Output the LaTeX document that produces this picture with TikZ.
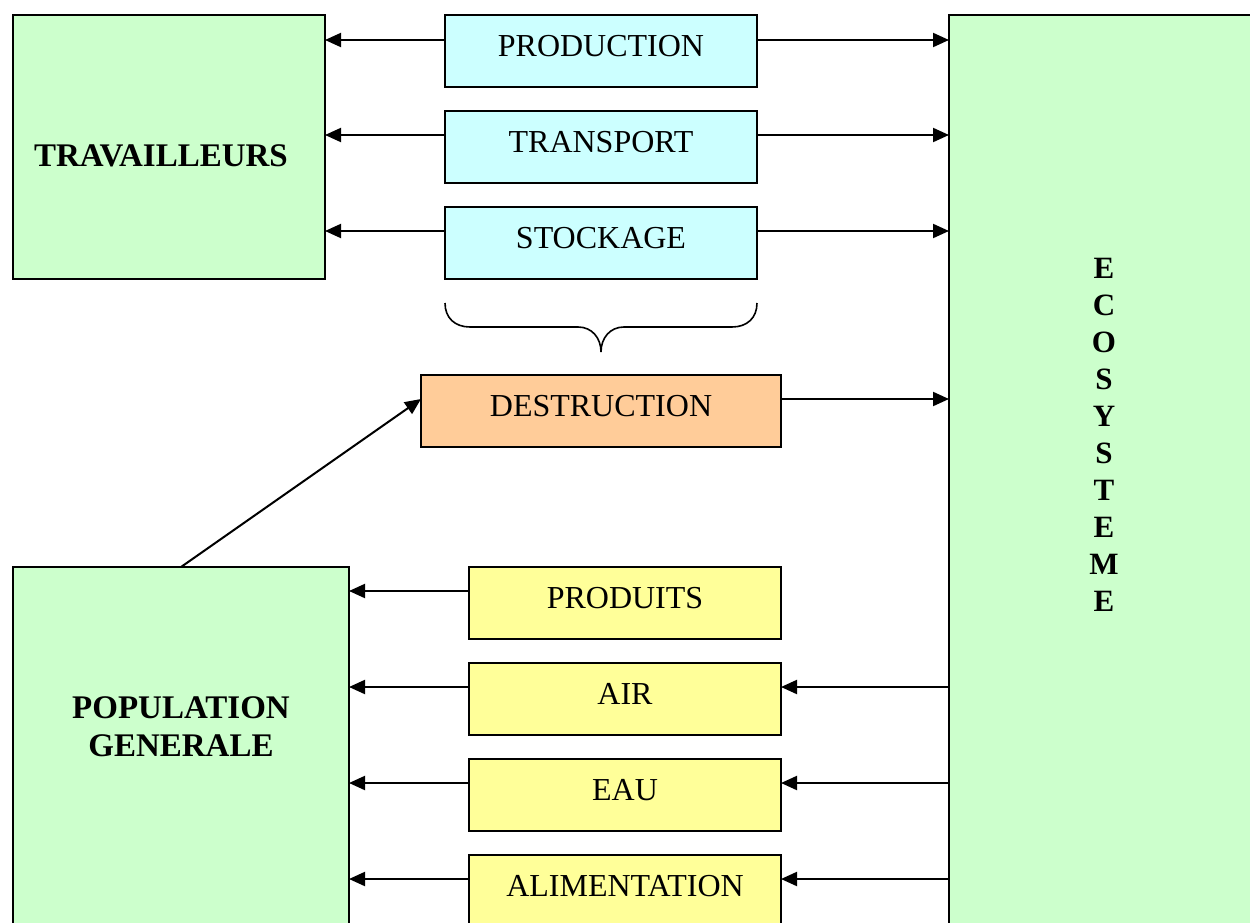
\documentclass[tikz,border=0pt]{standalone}
\usepackage{fontspec}
\setmainfont{Liberation Serif}
\usetikzlibrary{arrows.meta}
\definecolor{vert}{HTML}{CCFFCC}
\definecolor{cyanbox}{HTML}{CCFFFF}
\definecolor{orangebox}{HTML}{FFCC99}
\definecolor{jaune}{HTML}{FFFF99}
\begin{document}
\begin{tikzpicture}[x=1pt,y=-1pt,
  box/.style={draw=black, line width=2pt, inner sep=0pt, outer sep=0pt},
  oneline/.style={box, font=\fontsize{32}{37}\selectfont, text height=22pt, text depth=11pt, minimum width=312pt, minimum height=72pt},
  bluebox/.style={oneline, fill=cyanbox},
  yellowbox/.style={oneline, fill=jaune},
  greenbox/.style={box, fill=vert, font=\fontsize{33}{38}\selectfont\bfseries},
  arr/.style={line width=2pt, -{Triangle[length=16pt,width=14pt]}},
  bracepath/.style={line width=1.6pt}
]
\useasboundingbox (0,0) rectangle (1250,923);

% left and right big boxes
\node[greenbox, minimum width=312pt, minimum height=264pt, text height=40pt, text depth=0pt] (trav) at (169,147) {TRAVAILLEURS\rule{16pt}{0pt}};
\node[greenbox, minimum width=336pt, minimum height=400pt] (pop) at (181,767)
  {\raisebox{0pt}[20pt][118pt]{\begin{tabular}[t]{@{}c@{}}POPULATION\\GENERALE\end{tabular}}};
\node[greenbox, minimum width=310pt, minimum height=985pt, font=\fontsize{31}{37}\selectfont\bfseries] (eco) at (1104,507.5)
  {\raisebox{0pt}[20pt][479pt]{\begin{tabular}[t]{@{}c@{}}E\\C\\O\\S\\Y\\S\\T\\E\\M\\E\end{tabular}}};

% middle boxes
\node[bluebox] (prod) at (601,51) {PRODUCTION};
\node[bluebox] (trans) at (601,147) {TRANSPORT};
\node[bluebox] (stock) at (601,243) {STOCKAGE};
\node[oneline, fill=orangebox, minimum width=360pt] (dest) at (601,411) {DESTRUCTION};
\node[yellowbox] (produits) at (625,603) {PRODUITS};
\node[yellowbox] (air) at (625,699) {AIR};
\node[yellowbox] (eau) at (625,795) {EAU};
\node[yellowbox] (alim) at (625,891) {ALIMENTATION};

% brace
\draw[bracepath] (445,303) .. controls (445,318) and (455,327) .. (470,327) -- (578,327)
  .. controls (592,327) and (601,338) .. (601,352)
  .. controls (601,338) and (610,327) .. (624,327) -- (732,327)
  .. controls (747,327) and (757,318) .. (757,303);

% arrows top
\draw[arr] (prod.west |- 0,40) -- (trav.east |- 0,40);
\draw[arr] (prod.east |- 0,40) -- (eco.west |- 0,40);
\draw[arr] (trans.west |- 0,135) -- (trav.east |- 0,135);
\draw[arr] (trans.east |- 0,135) -- (eco.west |- 0,135);
\draw[arr] (stock.west |- 0,231) -- (trav.east |- 0,231);
\draw[arr] (stock.east |- 0,231) -- (eco.west |- 0,231);
\draw[arr] (dest.east |- 0,399) -- (eco.west |- 0,399);
\draw[arr] (pop.north) -- (dest.west |- 0,399);

% arrows bottom
\draw[arr] (produits.west |- 0,591) -- (pop.east |- 0,591);
\draw[arr] (air.west |- 0,687) -- (pop.east |- 0,687);
\draw[arr] (eau.west |- 0,783) -- (pop.east |- 0,783);
\draw[arr] (alim.west |- 0,879) -- (pop.east |- 0,879);
\draw[arr] (eco.west |- 0,687) -- (air.east |- 0,687);
\draw[arr] (eco.west |- 0,783) -- (eau.east |- 0,783);
\draw[arr] (eco.west |- 0,879) -- (alim.east |- 0,879);
\end{tikzpicture}
\end{document}
